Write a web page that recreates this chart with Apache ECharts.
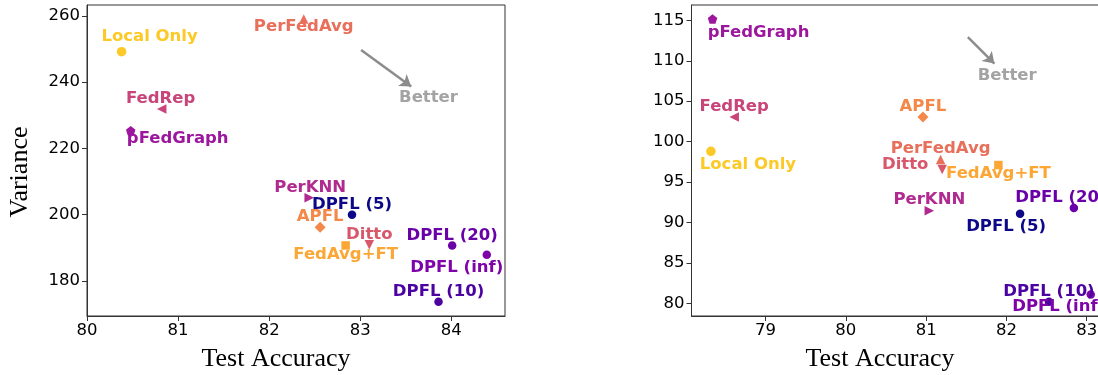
<!DOCTYPE html>
<html>
<head>
<meta charset="utf-8">
<script src="https://cdn.jsdelivr.net/npm/echarts@6/dist/echarts.min.js"></script>
<style>
  html, body { margin: 0; padding: 0; background: #fff; overflow: hidden; }
  /* the right panel runs a little past the window edge */
  #chart { width: 1112px; height: 375px; }
</style>
</head>
<body>
<div id="chart"></div>
<script>
// Methods compared in both panels
const methods = ['Local Only', 'FedAvg+FT', 'APFL', 'PerFedAvg', 'Ditto', 'FedRep',
                 'PerKNN', 'pFedGraph', 'DPFL (5)', 'DPFL (10)', 'DPFL (20)', 'DPFL (inf)'];

// Left panel: test accuracy vs. variance
const accLeft = [80.38, 82.84, 82.56, 82.38, 83.10, 80.82, 82.44, 80.48, 82.91, 83.86, 84.01, 84.39];
const varLeft = [249.2, 190.7, 196.2, 259.1, 190.9, 231.9, 205.1, 225.3, 200.0, 173.7, 190.7, 187.9];

// Right panel: test accuracy vs. variance
const accRight = [78.32, 81.90, 80.96, 81.18, 81.20, 78.61, 81.04, 78.34, 82.17, 82.53, 82.84, 83.05];
const varRight = [98.8, 97.1, 103.05, 97.8, 96.55, 103.05, 91.44, 115.16, 91.07, 80.2, 91.8, 81.1];

// Tick labels
const xTicksLeft = [80, 81, 82, 83, 84];
const yTicksLeft = [180, 200, 220, 240, 260];
const xTicksRight = [79, 80, 81, 82, 83];
const yTicksRight = [80, 85, 90, 95, 100, 105, 110, 115];

// "Better" annotation: arrow start, arrow end, text anchor  [accuracy, variance]
const betterLeft = [[83.01, 249.7], [83.56, 238.7], [83.75, 235.2]];
const betterRight = [[81.52, 112.94], [81.85, 109.65], [82.01, 108.2]];

// Marker styles per method
const pentagon = 'path://M0,-1 L0.951,-0.309 L0.588,0.809 L-0.588,0.809 L-0.951,-0.309 Z';
const styles = {
  'Local Only': { color: '#fcc926', symbol: 'circle', size: 9.5, rot: 0 },
  'FedAvg+FT':  { color: '#fca636', symbol: 'rect', size: 8.5, rot: 0 },
  'APFL':       { color: '#f48849', symbol: 'diamond', size: 11, rot: 0 },
  'PerFedAvg':  { color: '#e8705a', symbol: 'triangle', size: 9.5, rot: 0 },
  'Ditto':      { color: '#d8576b', symbol: 'triangle', size: 9.5, rot: 180 },
  'FedRep':     { color: '#c8447a', symbol: 'triangle', size: 9.5, rot: 90 },
  'PerKNN':     { color: '#b12a90', symbol: 'triangle', size: 9.5, rot: -90 },
  'pFedGraph':  { color: '#9c179e', symbol: pentagon, size: 9.5, rot: 0 },
  'DPFL (5)':   { color: '#0d0887', symbol: 'circle', size: 8.5, rot: 0 },
  'DPFL (10)':  { color: '#4c02a1', symbol: 'circle', size: 8.5, rot: 0 },
  'DPFL (20)':  { color: '#6a00a8', symbol: 'circle', size: 8.5, rot: 0 },
  'DPFL (inf)': { color: '#7e03a8', symbol: 'circle', size: 8.5, rot: 0 }
};

// Label offsets (px, label centre relative to marker centre)
const labelOffsetLeft = {
  'Local Only': [28, -15], 'FedAvg+FT': [0, 9], 'APFL': [0, -11], 'PerFedAvg': [0, 8],
  'Ditto': [0, -10], 'FedRep': [-1, -10], 'PerKNN': [1, -10], 'pFedGraph': [47, 8],
  'DPFL (5)': [0, -10], 'DPFL (10)': [0, -10], 'DPFL (20)': [0, -10], 'DPFL (inf)': [-30, 13]
};
const labelOffsetRight = {
  'Local Only': [37, 13], 'FedAvg+FT': [0, 9], 'APFL': [0, -10], 'PerFedAvg': [0, -11],
  'Ditto': [-37, -5], 'FedRep': [0, -10], 'PerKNN': [0, -11], 'pFedGraph': [46, 14],
  'DPFL (5)': [-14, 13], 'DPFL (20)': [-13, -10], 'DPFL (10)': [0, -10], 'DPFL (inf)': [-32, 12]
};

const tickFont = { fontFamily: 'DejaVu Sans', fontSize: 16.5, color: '#000' };
const gray = '#8c8c8c';

function makeXAxis(gridIndex, min, max, ticks) {
  return {
    type: 'value', gridIndex, min, max,
    axisLine: { show: true, lineStyle: { color: '#333', width: 1 } },
    axisTick: { show: true, length: 5, lineStyle: { color: '#333' }, customValues: ticks },
    axisLabel: Object.assign({ margin: 6, customValues: ticks }, tickFont),
    splitLine: { show: false }
  };
}
function makeYAxis(gridIndex, min, max, ticks) {
  return {
    type: 'value', gridIndex, min, max,
    axisLine: { show: true, lineStyle: { color: '#333', width: 1 } },
    axisTick: { show: true, length: 5, lineStyle: { color: '#333' }, customValues: ticks },
    axisLabel: Object.assign({ margin: 7, customValues: ticks }, tickFont),
    splitLine: { show: false }
  };
}

function panelSeries(idx, acc, vars, offsets, better) {
  const out = methods.map((m, i) => {
    const s = styles[m];
    return {
      name: m, type: 'scatter', xAxisIndex: idx, yAxisIndex: idx,
      symbol: s.symbol, symbolSize: s.size, symbolRotate: s.rot,
      itemStyle: { color: s.color, opacity: 1 },
      label: {
        show: true, position: 'inside', offset: offsets[m],
        formatter: m, color: s.color, fontFamily: 'DejaVu Sans',
        fontWeight: 'bold', fontSize: 16.5
      },
      emphasis: { disabled: true },
      z: 3,
      data: [[acc[i], vars[i]]]
    };
  });
  // Arrow pointing towards the better corner, with its caption
  out.push({
    name: 'Better', type: 'scatter', xAxisIndex: idx, yAxisIndex: idx,
    symbol: 'circle', symbolSize: 1,
    itemStyle: { color: 'rgba(255,255,255,0)' },
    label: {
      show: true, position: 'inside', formatter: 'Better', color: gray,
      fontFamily: 'DejaVu Sans', fontWeight: 'bold', fontSize: 16.5
    },
    emphasis: { disabled: true },
    silent: true,
    data: [better[2]],
    markLine: {
      silent: true, symbol: ['none', 'arrow'], symbolSize: 11,
      label: { show: false },
      emphasis: { disabled: true },
      itemStyle: { color: gray },
      lineStyle: { color: gray, width: 2.5, type: 'solid', opacity: 1 },
      data: [[{ coord: better[0] }, { coord: better[1] }]]
    }
  });
  return out;
}

const serifFont = { fontFamily: 'Liberation Serif', fontSize: 26, fill: '#000' };

const chart = echarts.init(document.getElementById('chart'), null, { renderer: 'canvas' });
chart.setOption({
  animation: false,
  backgroundColor: '#fff',
  grid: [
    { left: 87, top: 5, width: 418, height: 311, show: true, borderColor: '#333', borderWidth: 1, backgroundColor: 'transparent' },
    { left: 691.5, top: 5, width: 417.7, height: 311, show: true, borderColor: '#333', borderWidth: 1, backgroundColor: 'transparent' }
  ],
  xAxis: [
    makeXAxis(0, 80, 84.59, xTicksLeft),
    makeXAxis(1, 78.078, 83.28, xTicksRight)
  ],
  yAxis: [
    makeYAxis(0, 169.4, 263.3, yTicksLeft),
    makeYAxis(1, 78.43, 116.9, yTicksRight)
  ],
  graphic: [
    { type: 'text', x: 276, y: 359, style: Object.assign({ text: 'Test Accuracy', align: 'center', verticalAlign: 'middle' }, serifFont) },
    { type: 'text', x: 880, y: 359, style: Object.assign({ text: 'Test Accuracy', align: 'center', verticalAlign: 'middle' }, serifFont) },
    { type: 'text', x: 20, y: 172, rotation: Math.PI / 2, style: Object.assign({ text: 'Variance', align: 'center', verticalAlign: 'middle' }, serifFont) }
  ],
  series: [].concat(
    panelSeries(0, accLeft, varLeft, labelOffsetLeft, betterLeft),
    panelSeries(1, accRight, varRight, labelOffsetRight, betterRight)
  )
});
</script>
</body>
</html>
